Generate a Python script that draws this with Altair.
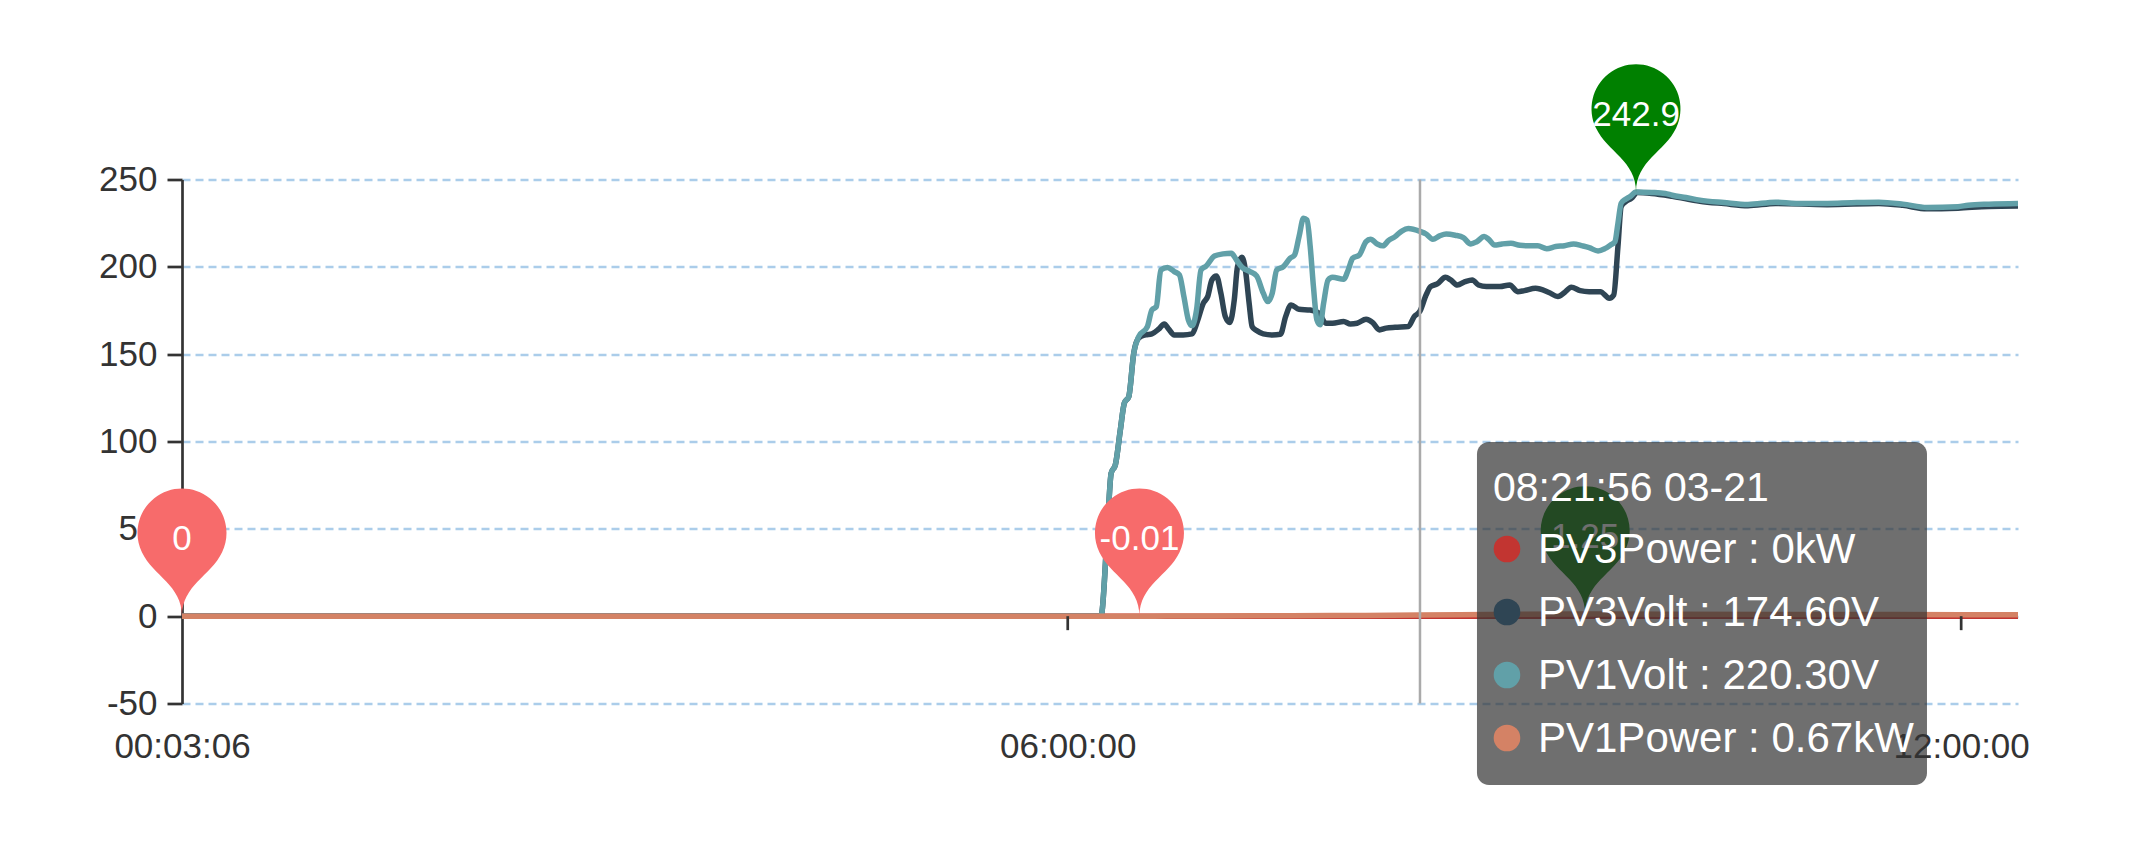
import altair as alt
import pandas as pd

DATE = "2024-03-21"

# ---------------- data ----------------
pv1_volt_times = [
    "00:03:06", "06:13:30", "06:13:50", "06:15:54", "06:17:30", "06:19:12", "06:21:12", "06:22:48",
    "06:24:36", "06:26:36", "06:28:36", "06:32:06", "06:33:54", "06:35:42", "06:37:30", "06:40:12",
    "06:42:54", "06:45:00", "06:46:48", "06:48:36", "06:50:06", "06:51:54", "06:53:42", "06:55:48",
    "06:59:06", "07:02:36", "07:05:54", "07:08:00", "07:10:12", "07:13:24", "07:16:06", "07:18:48",
    "07:20:36", "07:22:24", "07:24:12", "07:26:54", "07:29:36", "07:31:24", "07:33:12", "07:35:00",
    "07:36:24", "07:37:42", "07:39:00", "07:40:24", "07:41:42", "07:43:06", "07:44:54", "07:46:42",
    "07:51:12", "07:53:00", "07:54:48", "07:57:30", "08:00:12", "08:02:00", "08:04:42", "08:07:00",
    "08:09:12", "08:11:54", "08:14:36", "08:17:12", "08:21:56", "08:24:24", "08:27:06", "08:29:48",
    "08:32:30", "08:36:06", "08:39:24", "08:42:24", "08:44:48", "08:47:48", "08:49:36", "08:52:00",
    "08:55:00", "08:58:36", "09:02:12", "09:05:48", "09:09:24", "09:13:00", "09:16:36", "09:20:12",
    "09:23:48", "09:27:24", "09:30:06", "09:33:42", "09:36:24", "09:38:42", "09:40:30", "09:41:42",
    "09:43:00", "09:44:48", "09:46:36", "09:49:00", "09:55:18", "10:00:48", "10:03:36", "10:09:06",
    "10:14:42", "10:24:24", "10:34:06", "10:45:12", "10:53:30", "11:06:00", "11:15:42", "11:26:48",
    "11:36:30", "11:46:12", "11:58:42", "12:02:48", "12:11:12", "12:22:54",
]
pv1_volt_vals = [
    0, 0, 2.7, 47.6, 81.9, 86.7, 106.7, 122.0,
    125.7, 150.6, 160.1, 165.8, 175.3, 177.2, 198.2, 199.6,
    197.3, 195.4, 183.0, 169.6, 166.2, 175.3, 198.2, 200.5,
    206.2, 207.4, 207.8, 203.9, 199.8, 197.3, 194.8, 184.9,
    180.1, 184.9, 198.2, 200.1, 204.9, 206.8, 217.3, 227.8,
    226.8, 211.6, 188.7, 169.6, 166.8, 179.1, 192.5, 194.0,
    192.9, 198.2, 204.9, 206.8, 214.4, 215.8, 213.1, 212.0,
    215.0, 217.3, 220.5, 221.9, 220.3, 218.8, 215.8, 217.7,
    218.8, 218.1, 216.7, 213.1, 214.4, 217.3, 215.8, 212.5,
    213.1, 213.5, 212.3, 212.0, 212.0, 210.4, 211.6, 212.1,
    213.1, 212.0, 211.0, 209.1, 210.4, 212.5, 214.4, 224.9,
    236.4, 238.7, 240.2, 242.9, 242.6, 242.0, 241.0, 239.7,
    238.2, 236.8, 235.7, 237.0, 236.3, 236.3, 236.7, 237.0,
    235.9, 234.0, 234.4, 235.3, 235.9, 236.3,
]

pv3_volt_times = [
    "00:03:06", "06:13:30", "06:13:50", "06:15:54", "06:17:30", "06:19:12", "06:21:12", "06:22:48",
    "06:24:36", "06:26:36", "06:28:30", "06:31:12", "06:33:54", "06:36:36", "06:38:54", "06:40:42",
    "06:42:54", "06:46:30", "06:50:06", "06:52:12", "06:54:36", "06:56:24", "06:58:06", "06:59:54",
    "07:01:42", "07:03:30", "07:05:18", "07:07:06", "07:08:24", "07:10:12", "07:11:36", "07:13:06",
    "07:14:18", "07:16:06", "07:18:48", "07:22:24", "07:25:42", "07:27:48", "07:30:00", "07:33:12",
    "07:37:42", "07:41:18", "07:44:00", "07:46:42", "07:51:12", "07:53:54", "07:56:36", "08:00:12",
    "08:02:54", "08:05:36", "08:08:18", "08:11:54", "08:17:12", "08:19:36", "08:21:56", "08:24:24",
    "08:26:12", "08:28:54", "08:32:12", "08:34:18", "08:37:00", "08:40:06", "08:43:00", "08:45:30",
    "08:48:42", "08:54:06", "08:58:06", "09:01:18", "09:04:00", "09:08:30", "09:13:54", "09:17:30",
    "09:20:12", "09:22:54", "09:26:30", "09:30:06", "09:34:36", "09:38:12", "09:40:00", "09:41:42",
    "09:43:00", "09:44:48", "09:47:06", "09:49:30", "09:55:18", "10:03:36", "10:14:42", "10:24:24",
    "10:34:06", "10:45:12", "11:06:00", "11:26:48", "11:36:30", "11:46:12", "11:58:42", "12:11:12",
    "12:22:54",
]
pv3_volt_vals = [
    0, 0, 2.7, 47.6, 81.9, 86.7, 106.7, 122.0,
    125.7, 150.6, 159.1, 161.0, 161.6, 164.3, 167.3, 164.3,
    161.0, 161.0, 161.6, 168.7, 179.1, 183.0, 192.5, 194.8,
    184.9, 171.5, 168.1, 181.0, 200.1, 205.5, 198.2, 179.1,
    165.8, 163.5, 161.6, 161.0, 161.4, 171.5, 178.2, 175.7,
    175.3, 173.4, 167.7, 167.7, 168.7, 167.3, 167.7, 170.0,
    168.1, 163.9, 164.9, 165.4, 165.8, 171.5, 174.6, 183.9,
    188.7, 190.2, 194.0, 192.5, 189.6, 191.5, 192.5, 189.6,
    188.7, 188.7, 189.6, 185.8, 186.4, 187.7, 185.3, 183.0,
    185.3, 188.3, 186.4, 185.8, 185.8, 182.0, 183.9, 211.6,
    234.5, 237.3, 239.2, 242.5, 242.0, 240.4, 237.6, 236.2,
    235.0, 236.3, 235.6, 236.3, 235.2, 233.2, 233.6, 234.6,
    234.8,
]

pv1_power_times = ["00:03:06", "06:13:30", "06:28:54", "06:40:00", "07:00:00", "07:30:00", "08:00:00",
                   "08:21:56", "08:50:00", "09:28:30", "10:00:00", "11:00:00", "12:00:00", "12:22:54"]
pv1_power_vals = [0, 0, -0.01, 0.05, 0.15, 0.3, 0.45, 0.67, 0.9, 1.25, 1.1, 1.0, 0.85, 0.8]

pv3_power_times = ["00:03:06", "06:00:00", "08:21:56", "12:22:54"]
pv3_power_vals = [0, 0, 0, 0]

series_names = ["PV3Power", "PV3Volt", "PV1Volt", "PV1Power"]
series_colors = ["#c23531", "#2f4554", "#61a0a8", "#d48265"]

pin_labels = ["0", "-0.01", "242.9", "1.25"]
pin_times = ["00:03:06", "06:28:54", "09:49:00", "09:28:30"]
pin_vals = [0, -0.01, 242.9, 1.25]
pin_colors = ["#f76b6b", "#f76b6b", "#008000", "#008000"]

x_tick_times = ["06:00:00", "12:00:00"]
x_label_hms = [(0, 3, 6), (6, 0, 0), (12, 0, 0)]
x_start_hms = (0, 3, 6)
x_end_hms = (12, 22, 54)
y_ticks = [-50, 0, 50, 100, 150, 200, 250]
y_top, y_bottom = 250, -50

hover_time = "08:21:56"
tooltip_title = "08:21:56 03-21"
tooltip_lines = ["PV3Power : 0kW", "PV3Volt : 174.60V", "PV1Volt : 220.30V", "PV1Power : 0.67kW"]

# ---------------- build ----------------
FONT = "Liberation Sans"


def ts(hms):
    return f"{DATE}T{hms}"


def dt(h, m, s):
    return alt.DateTime(year=2024, month=3, date=21, hours=h, minutes=m, seconds=s)


series_data = {
    "PV3Power": (pv3_power_times, pv3_power_vals),
    "PV3Volt": (pv3_volt_times, pv3_volt_vals),
    "PV1Volt": (pv1_volt_times, pv1_volt_vals),
    "PV1Power": (pv1_power_times, pv1_power_vals),
}

x_scale = alt.Scale(domain=[dt(*x_start_hms), dt(*x_end_hms)])
y_scale = alt.Scale(domain=[y_bottom, y_top], nice=False, zero=False)

x_axis = alt.Axis(
    values=[dt(*v) for v in x_label_hms], format="%H:%M:%S", labelFlush=False, labelOverlap=False,
    domain=False, ticks=False, tickSize=0, grid=False, title=None, labelFont=FONT, labelFontSize=35,
    labelColor="#333333", labelBaseline="top", labelPadding=26,
)
y_axis = alt.Axis(
    values=y_ticks, title=None, labelFont=FONT, labelFontSize=35, labelColor="#333333",
    labelPadding=10, labelExpr="'' + datum.value",
    domain=True, domainColor="#333333", domainWidth=2.7,
    ticks=True, tickColor="#333333", tickWidth=2.7, tickSize=15,
    grid=True, gridColor="#abcdea", gridDash=[8, 5], gridWidth=2.5, gridOpacity=1,
)

X = alt.X("t:T", scale=x_scale, axis=x_axis)
Y = alt.Y("v:Q", scale=y_scale, axis=y_axis)

layers = []
for name, color in zip(series_names, series_colors):
    times, vals = series_data[name]
    df = pd.DataFrame({"t": [ts(t) for t in times], "v": vals})
    layers.append(
        alt.Chart(df).mark_line(color=color, strokeWidth=5.5, interpolate="monotone").encode(x=X, y=Y)
    )

hover_df = pd.DataFrame({"t": [ts(hover_time)], "v": [y_top], "v2": [y_bottom]})
cursor = alt.Chart(hover_df).mark_rule(color="#aaaaaa", strokeWidth=2.5).encode(x=X, y=Y, y2="v2:Q")

tick_df = pd.DataFrame({"t": [ts(t) for t in x_tick_times], "v": [0] * len(x_tick_times),
                        "v2": [0] * len(x_tick_times)})
xticks = alt.Chart(tick_df).mark_rule(color="#333333", strokeWidth=2.7, y2Offset=14).encode(
    x=X, y=Y, y2="v2:Q"
)

PIN = ("M -0.901 -1.436 A 1 1 0 1 1 0.901 -1.436 "
       "C 0.641 -0.895 0 -0.7 0 0 C 0 -0.7 -0.641 -0.895 -0.901 -1.436 Z")
pin_df = pd.DataFrame({"t": [ts(t) for t in pin_times], "v": pin_vals, "c": pin_colors, "label": pin_labels})
pins = alt.Chart(pin_df).mark_point(shape=PIN, size=7921, filled=True, opacity=1, strokeWidth=0).encode(
    x=X, y=Y, color=alt.Color("c:N", scale=None)
)
pin_text = alt.Chart(pin_df).mark_text(
    dy=-77, fontSize=35, font=FONT, color="white", baseline="middle", align="center"
).encode(x=X, y=Y, text="label:N")

tip_box = alt.Chart(hover_df).mark_rect(
    color="#323232", opacity=0.7, cornerRadius=12, xOffset=57, x2Offset=507
).encode(x=X, x2="t:T", y=alt.value(262.5), y2=alt.value(605.5))

tip_marks = [
    alt.Chart(hover_df).mark_text(
        align="left", baseline="alphabetic", xOffset=73, fontSize=41, font=FONT, color="white"
    ).encode(x=X, y=alt.value(321), text=alt.value(tooltip_title))
]
for i, (line, color) in enumerate(zip(tooltip_lines, series_colors)):
    tip_marks.append(
        alt.Chart(hover_df).mark_point(
            shape="circle", size=707, filled=True, opacity=1, strokeWidth=0, color=color, xOffset=87
        ).encode(x=X, y=alt.value(369.5 + i * 63))
    )
    tip_marks.append(
        alt.Chart(hover_df).mark_text(
            align="left", baseline="alphabetic", xOffset=118, fontSize=42, font=FONT, color="white"
        ).encode(x=X, y=alt.value(383.5 + i * 63), text=alt.value(line))
    )

chart = alt.layer(*layers, cursor, xticks, pins, pin_text, tip_box, *tip_marks).properties(
    width=1836, height=524,
    autosize=alt.AutoSizeParams(type="none"),
    padding={"left": 174, "top": 171.5, "right": 100, "bottom": 120},
).configure_view(stroke=None)

chart.save("out.html", embed_options={"renderer": "svg", "actions": False})
